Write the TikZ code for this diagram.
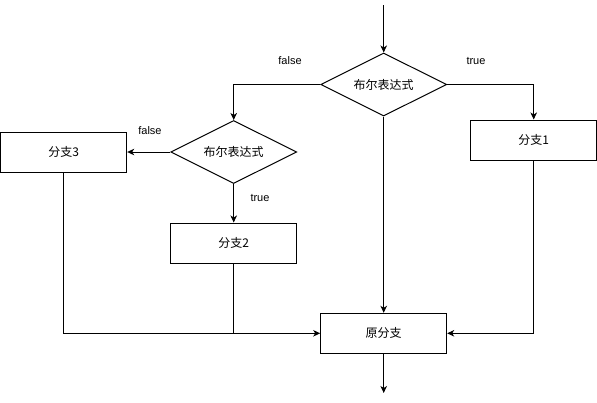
\documentclass[tikz,border=0pt]{standalone}
\usepackage{fontspec}
\setmainfont{Liberation Sans}
\newfontfamily\cjk{Noto Sans CJK SC}
\usetikzlibrary{shapes.geometric,arrows.meta}
\begin{document}
\begin{tikzpicture}[x=1pt,y=-1pt,
  box/.style={draw,line width=1pt,minimum width=126pt,minimum height=40pt,inner sep=0pt,font=\cjk\fontsize{12pt}{14pt}\selectfont},
  cond/.style={draw,diamond,line width=1pt,minimum width=126pt,minimum height=63pt,inner sep=0pt,aspect=2,font=\cjk\fontsize{12pt}{14pt}\selectfont},
  conn/.style={line width=1pt,-{Stealth[length=7pt,width=6.5pt,inset=2pt]}},
  plain/.style={line width=1pt},
  lbl/.style={font=\fontsize{11pt}{13pt}\selectfont,inner sep=0pt}]
\useasboundingbox (0,0) rectangle (597,402);
\node[cond] (d1) at (383.7,84.5) {布尔表达式};
\node[cond] (d2) at (233.7,152) {布尔表达式};
\node[box] (b3) at (63.7,152) {分支3};
\node[box] (b2) at (233.7,243) {分支2};
\node[box] (b1) at (533.7,140) {分支1};
\node[box] (b0) at (383.7,333.3) {原分支};
\coordinate (top) at (383.7,5);
\coordinate (bot) at (383.7,393);
\draw[conn] (top) -- (d1.north);
\draw[conn] (d1.west) -| (d2.north);
\draw[conn] (d1.east) -| (b1.north);
\draw[conn] (d2.west) -- (b3.east);
\draw[conn] (d2.south) -- (b2.north);
\draw[conn] (d1.south) -- (b0.north);
\draw[conn] (b3.south) |- (b0.west);
\draw[plain] (b2.south) -- (b2.south |- b0.west);
\draw[conn] (b1.south) |- (b0.east);
\draw[conn] (b0.south) -- (bot);
\node[lbl] (lf1) at (290,61) {false};
\node[lbl] (lt1) at (476,61) {true};
\node[lbl] (lf2) at (150,131) {false};
\node[lbl] (lt2) at (260,197.5) {true};
\end{tikzpicture}
\end{document}
